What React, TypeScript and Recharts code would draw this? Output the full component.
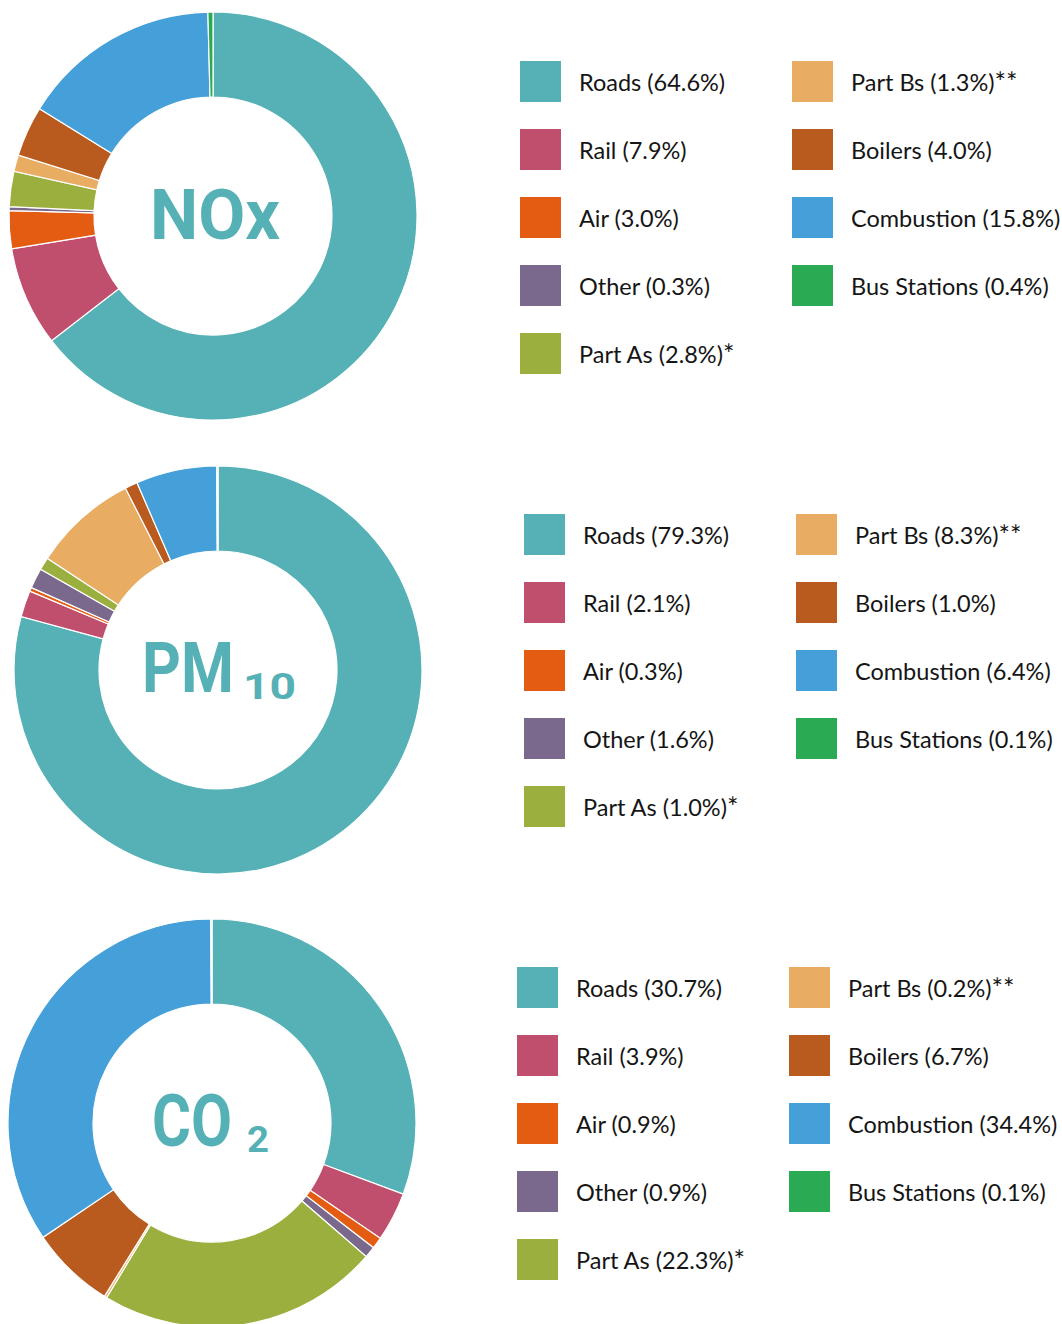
import React from "react";
import { PieChart, Pie, Cell } from "recharts";

const sources = ["Roads", "Rail", "Air", "Other", "Part As", "Part Bs", "Boilers", "Combustion", "Bus Stations"];
const notes = ["", "", "", "", "*", "**", "", "", ""];
const colors = ["#55B1B5", "#C04F6D", "#E35C12", "#7B688D", "#9AAF3E", "#E8AD62", "#B95B1E", "#459FD8", "#2BAA54"];

const noxShares = [64.6, 7.9, 3.0, 0.3, 2.8, 1.3, 4.0, 15.8, 0.4];
const pm10Shares = [79.3, 2.1, 0.3, 1.6, 1.0, 8.3, 1.0, 6.4, 0.1];
const co2Shares = [30.7, 3.9, 0.9, 0.9, 22.3, 0.2, 6.7, 34.4, 0.1];

const toRows = (shares: number[]) => sources.map((name, i) => ({ name, value: shares[i], note: notes[i], color: colors[i] }));

const panels = [
    { key: "nox", data: toRows(noxShares), cx: 213, cy: 216, legendX: 520, legendY: 81 },
    { key: "pm10", data: toRows(pm10Shares), cx: 218, cy: 670, legendX: 524, legendY: 534 },
    { key: "co2", data: toRows(co2Shares), cx: 212, cy: 1123, legendX: 517, legendY: 987 },
];

const teal = "#55B1B5";
const labelFont = "Roboto, 'Open Sans', sans-serif";
const ROW = 68;
const COL2 = 272;

function Legend({ rows, x, y }: { rows: { name: string; value: number; note: string; color: string }[]; x: number; y: number }) {
    return (
        <>
            {rows.map((r, i) => {
                const col = i < 5 ? 0 : 1;
                const row = i < 5 ? i : i - 5;
                return (
                    <div key={r.name} style={{
                        position: "absolute", left: x + col * COL2, top: y + row * ROW - 20,
                        height: 41, display: "flex", alignItems: "center", whiteSpace: "nowrap",
                    }}>
                        <div style={{ width: 41, height: 41, background: r.color, flexShrink: 0 }} />
                        <span style={{ marginLeft: 18, fontFamily: "Lato, sans-serif", fontSize: 23.5, color: "#151515" }}>
                            {`${r.name} (${r.value.toFixed(1)}%)`}
                            {r.note && <span style={{ fontSize: 27, lineHeight: 0, verticalAlign: "-0.05em" }}>{r.note}</span>}
                        </span>
                    </div>
                );
            })}
        </>
    );
}

export default function App() {
    return (
        <div style={{ position: "absolute", left: 0, top: 0, width: 1062, height: 1324, background: "#fff", overflow: "hidden" }}>
            <PieChart width={1062} height={1324} margin={{ top: 0, right: 0, bottom: 0, left: 0 }}>
                {panels.map(p => (
                    <Pie key={p.key} data={p.data} dataKey="value" nameKey="name" cx={p.cx} cy={p.cy}
                        innerRadius={119} outerRadius={204} startAngle={90} endAngle={-270}
                        stroke="#fff" strokeWidth={1.2} isAnimationActive={false}>
                        {p.data.map(d => <Cell key={d.name} fill={d.color} />)}
                    </Pie>
                ))}
            </PieChart>

            {/* centre labels */}
            <svg width={1062} height={1324} style={{ position: "absolute", left: 0, top: 0, pointerEvents: "none" }}>
                <g fill={teal} fontFamily={labelFont} fontWeight={700}>
                    <text x={150} y={239} fontSize={71} textLength={130} lengthAdjust="spacingAndGlyphs">NOx</text>
                    <text fontSize={70}>
                        <tspan x={142} y={692} textLength={92} lengthAdjust="spacingAndGlyphs">PM</tspan>
                        <tspan x={243} y={699} fontSize={36} textLength={53} lengthAdjust="spacingAndGlyphs">10</tspan>
                    </text>
                    <text fontSize={72}>
                        <tspan x={152} y={1146} textLength={80} lengthAdjust="spacingAndGlyphs">CO</tspan>
                        <tspan x={247} y={1152} fontSize={37} textLength={22} lengthAdjust="spacingAndGlyphs">2</tspan>
                    </text>
                </g>
            </svg>

            {panels.map(p => <Legend key={p.key} rows={p.data} x={p.legendX} y={p.legendY} />)}
        </div>
    );
}
